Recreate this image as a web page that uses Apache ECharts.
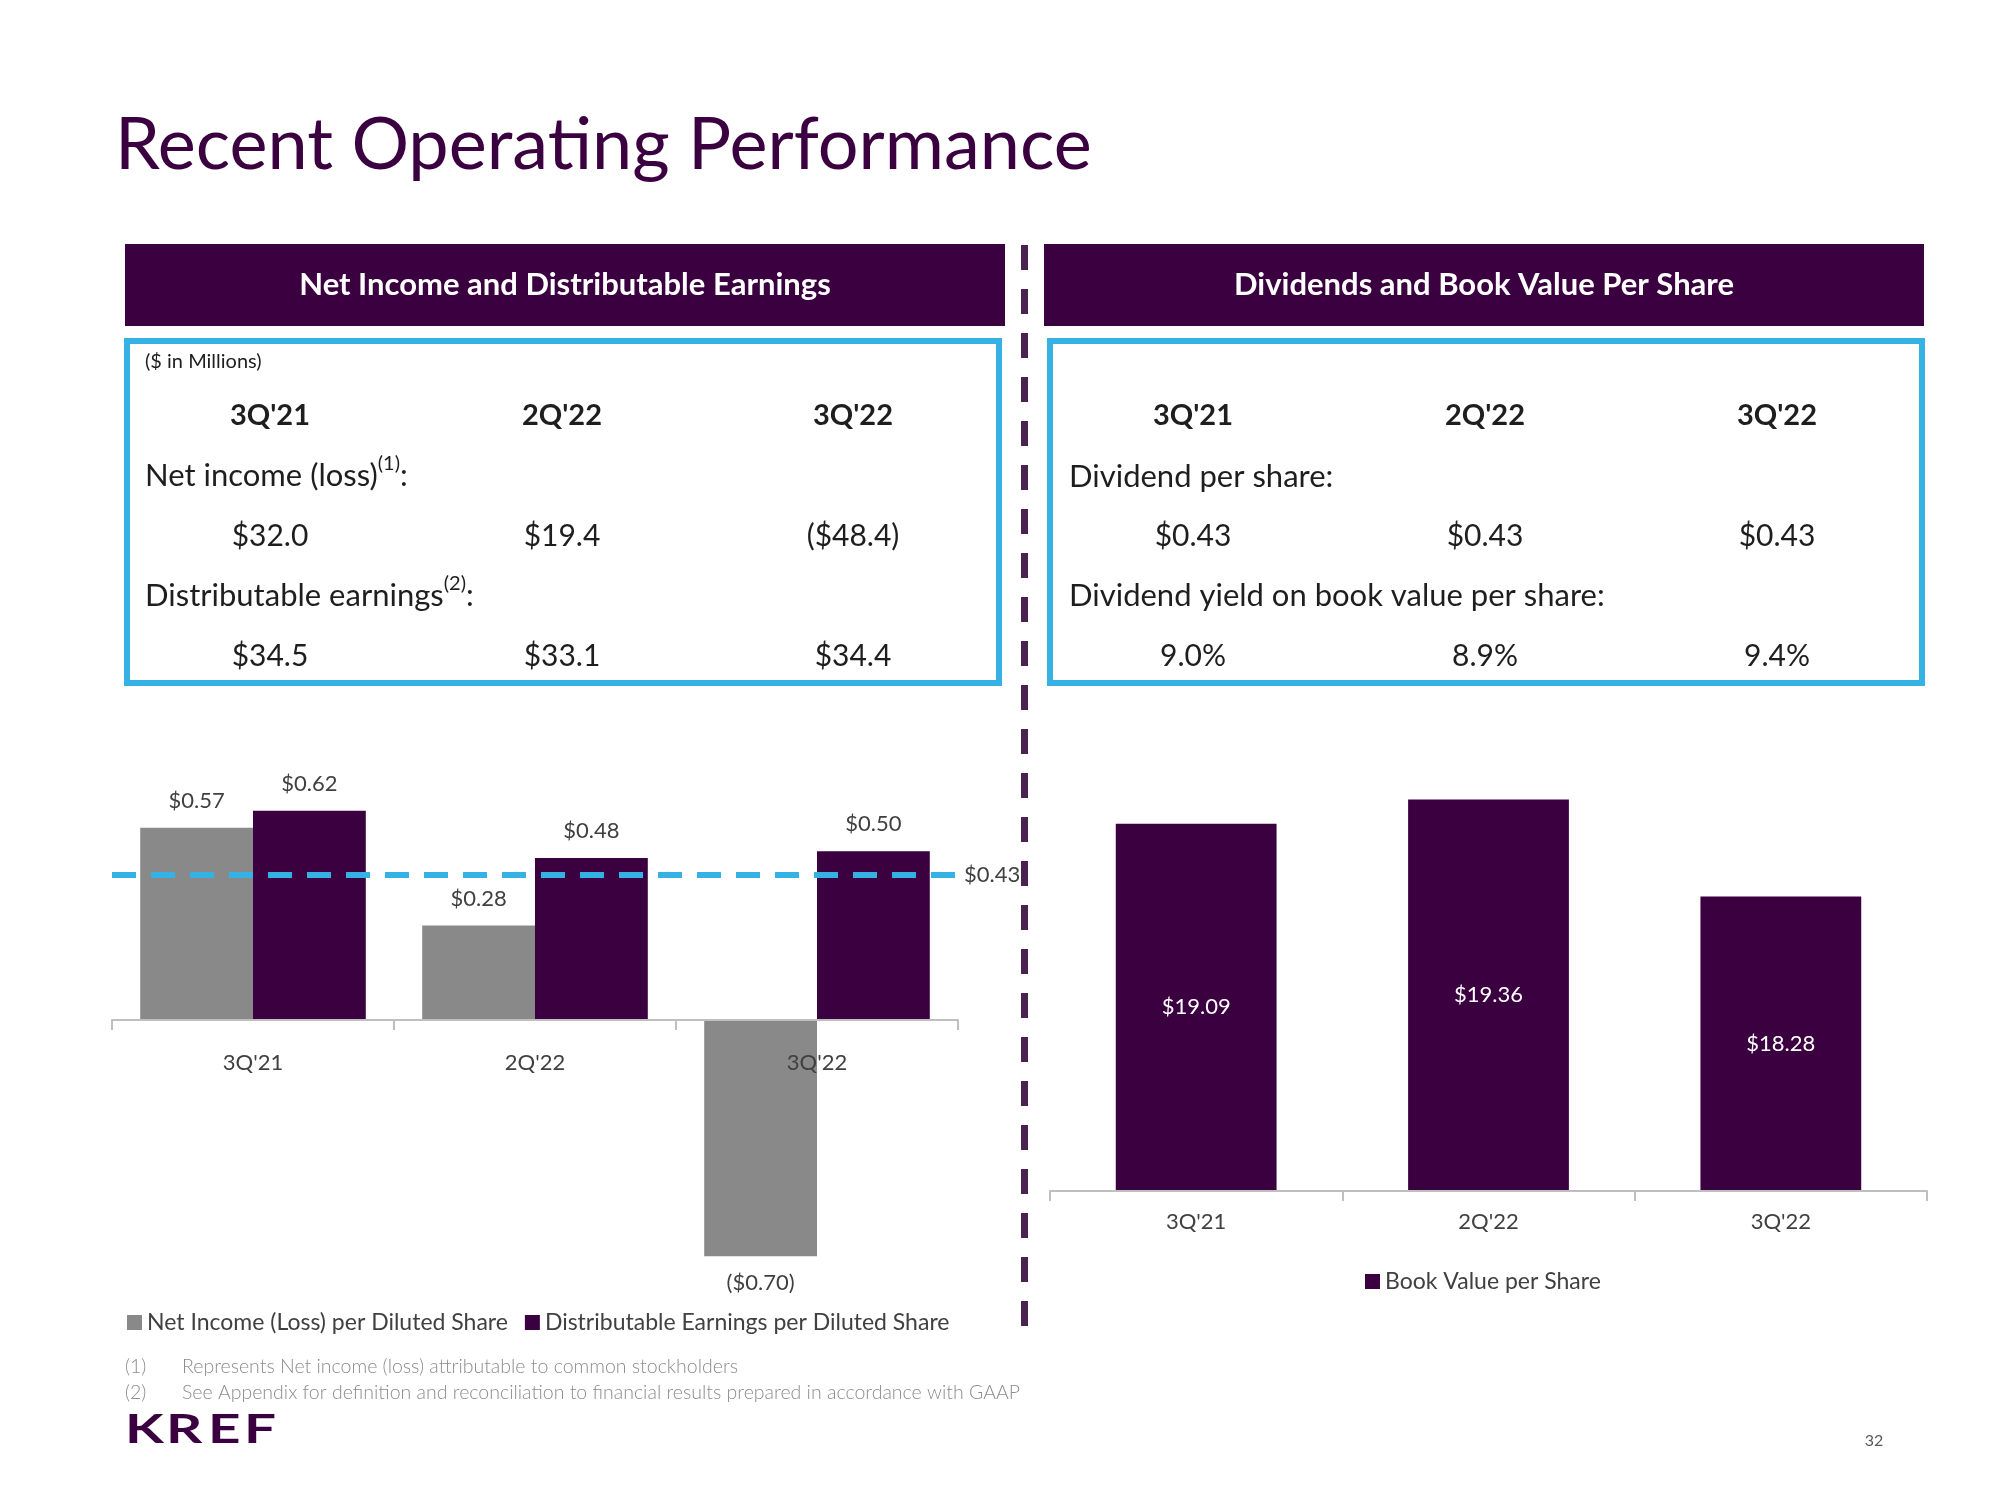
<!DOCTYPE html>
<html>
<head>
<meta charset="utf-8">
<script src="https://cdn.jsdelivr.net/npm/echarts@6/dist/echarts.min.js"></script>
<style>
html,body{margin:0;padding:0;background:#fff;}
#main{width:2000px;height:1500px;}
</style>
</head>
<body>
<div id="main"></div>
<script>
// ---- data ----
const categories = ["3Q'21", "2Q'22", "3Q'22"];
const netIncomePerShare = [0.57, 0.28, -0.70];
const distEarningsPerShare = [0.62, 0.48, 0.50];
const dividendPerShareLine = 0.43;
const bookValuePerShare = [19.09, 19.36, 18.28];
const netIncomeMillions = ['$32.0', '$19.4', '($48.4)'];
const distEarningsMillions = ['$34.5', '$33.1', '$34.4'];
const dividendPerShareText = ['$0.43', '$0.43', '$0.43'];
const dividendYieldText = ['9.0%', '8.9%', '9.4%'];
const seriesNames = ['Net Income (Loss) per Diluted Share', 'Distributable Earnings per Diluted Share', 'Book Value per Share'];

// ---- style ----
const PURPLE = '#3b0040';
const GREY = '#898989';
const BLUE = '#35b2e3';
const TXT = '#1e1e1e';
const LBL = '#404040';
const FONT = 'Lato, "Open Sans", sans-serif';

function money(v) {
  return v < 0 ? '($' + Math.abs(v).toFixed(2) + ')' : '$' + v.toFixed(2);
}

const chart = echarts.init(document.getElementById('main'), null, {renderer: 'canvas'});

const graphics = [];
function text(x, y, str, opts) {
  graphics.push({
    type: 'text', x: x, y: y, silent: true,
    style: Object.assign({
      text: str, fill: TXT, fontFamily: FONT, fontSize: 30,
      textAlign: 'left', textVerticalAlign: 'middle'
    }, opts || {})
  });
}

// title
text(115, 146, 'Recent Operating Performance', {fill: PURPLE, fontSize: 72});

// header bands
graphics.push({type: 'rect', silent: true, shape: {x: 125, y: 244, width: 880, height: 82}, style: {fill: PURPLE}});
graphics.push({type: 'rect', silent: true, shape: {x: 1044, y: 244, width: 880, height: 82}, style: {fill: PURPLE}});
text(565, 285, 'Net Income and Distributable Earnings', {fill: '#fff', fontWeight: 'bold', fontSize: 31, textAlign: 'center'});
text(1484, 285, 'Dividends and Book Value Per Share', {fill: '#fff', fontWeight: 'bold', fontSize: 31, textAlign: 'center'});

// blue boxes
graphics.push({type: 'rect', silent: true, shape: {x: 127, y: 341, width: 872, height: 342}, style: {fill: 'none', stroke: BLUE, lineWidth: 6}});
graphics.push({type: 'rect', silent: true, shape: {x: 1050, y: 341, width: 872, height: 342}, style: {fill: 'none', stroke: BLUE, lineWidth: 6}});

// divider
graphics.push({type: 'line', silent: true, shape: {x1: 1024.5, y1: 245, x2: 1024.5, y2: 1334}, style: {stroke: '#4b2350', lineWidth: 7, lineDash: [25, 19]}});

// tables
const leftCols = [270, 562, 853];
const rightCols = [1193, 1485, 1777];
text(145, 362, '($ in Millions)', {fontSize: 20});
categories.forEach((c, i) => {
  text(leftCols[i], 416, c, {fontWeight: 'bold', fontSize: 29, textAlign: 'center'});
  text(leftCols[i], 536, netIncomeMillions[i], {textAlign: 'center'});
  text(leftCols[i], 656, distEarningsMillions[i], {textAlign: 'center'});
  text(rightCols[i], 416, c, {fontWeight: 'bold', fontSize: 29, textAlign: 'center'});
  text(rightCols[i], 536, dividendPerShareText[i], {textAlign: 'center'});
  text(rightCols[i], 656, dividendYieldText[i], {textAlign: 'center'});
});
const richRow = {
  a: {fontSize: 31, fontFamily: FONT, color: TXT, lineHeight: 44},
  s: {fontSize: 20, fontFamily: FONT, color: TXT, lineHeight: 24, verticalAlign: 'top'}
};
text(145, 476, '{a|Net income (loss)}{s|(1)}{a|:}', {rich: richRow});
text(145, 596, '{a|Distributable earnings}{s|(2)}{a|:}', {rich: richRow});
text(1069, 477, 'Dividend per share:', {fontSize: 31});
text(1069, 596, 'Dividend yield on book value per share:', {fontSize: 31});

// footnotes
const fn = {fill: '#8c8c8c', fontSize: 19.5, fontWeight: 300};
text(125, 1367, '(1)', fn);
text(182, 1367, 'Represents Net income (loss) attributable to common stockholders', fn);
text(125, 1393, '(2)', fn);
text(182, 1393, 'See Appendix for definition and reconciliation to financial results prepared in accordance with GAAP', fn);

// logo
[['K', 125], ['R', 166], ['E', 208], ['F', 244]].forEach(([ch, x]) => {
  graphics.push({type: 'text', silent: true, x: x, y: 1430, scaleX: 1.38,
    style: {text: ch, fill: PURPLE, fontFamily: FONT, fontSize: 41, fontWeight: 'bold', textAlign: 'left', textVerticalAlign: 'middle'}});
});
text(1874, 1441, '32', {fill: '#595959', fontSize: 16, textAlign: 'center'});

const axisCommon = {
  type: 'category',
  data: categories,
  axisLine: {show: true, onZero: false, lineStyle: {color: '#bfbfbf', width: 2}},
  axisTick: {show: true, length: 10, lineStyle: {color: '#bfbfbf', width: 2}},
  axisLabel: {fontSize: 22, color: LBL, fontFamily: FONT},
  splitLine: {show: false},
  z: 10
};

const option = {
  backgroundColor: '#fff',
  animation: false,
  textStyle: {fontFamily: FONT},
  grid: [
    {left: 112, top: 750, width: 846, height: 270, containLabel: false},
    {left: 1050, top: 742, width: 877, height: 449, containLabel: false}
  ],
  xAxis: [
    Object.assign({}, axisCommon, {gridIndex: 0, axisLabel: Object.assign({}, axisCommon.axisLabel, {margin: 32})}),
    Object.assign({}, axisCommon, {gridIndex: 1, axisLabel: Object.assign({}, axisCommon.axisLabel, {margin: 20})})
  ],
  yAxis: [
    {type: 'value', gridIndex: 0, min: 0, max: 0.8, show: false, splitLine: {show: false}},
    {type: 'value', gridIndex: 1, min: 15, max: 20, show: false, splitLine: {show: false}}
  ],
  legend: [
    {data: [seriesNames[0], seriesNames[1]], left: 127, top: 1311, icon: 'rect', itemWidth: 15, itemHeight: 15,
     itemGap: 17, padding: 0, textStyle: {fontSize: 23, color: LBL, fontFamily: FONT}},
    {data: [seriesNames[2]], left: 1365, top: 1270, icon: 'rect', itemWidth: 15, itemHeight: 15,
     padding: 0, textStyle: {fontSize: 23, color: LBL, fontFamily: FONT}}
  ],
  series: [
    {
      name: seriesNames[0], type: 'bar', xAxisIndex: 0, yAxisIndex: 0,
      barGap: '0%', barCategoryGap: '20%', clip: false,
      itemStyle: {color: GREY},
      data: netIncomePerShare.map(v => ({
        value: v,
        label: {position: v < 0 ? 'bottom' : 'top'}
      })),
      label: {show: true, distance: 16, fontSize: 22, color: LBL, fontFamily: FONT,
        formatter: p => money(p.value)}
    },
    {
      name: seriesNames[1], type: 'bar', xAxisIndex: 0, yAxisIndex: 0,
      barGap: '0%', barCategoryGap: '20%', clip: false,
      itemStyle: {color: PURPLE},
      data: distEarningsPerShare,
      label: {show: true, position: 'top', distance: 16, fontSize: 22, color: LBL, fontFamily: FONT,
        formatter: p => money(p.value)},
      markLine: {
        silent: true, symbol: ['none', 'none'],
        lineStyle: {type: [24, 15], color: BLUE, width: 6},
        label: {show: true, position: 'end', distance: 6, fontSize: 22, color: LBL, fontFamily: FONT,
          formatter: () => money(dividendPerShareLine)},
        emphasis: {disabled: true},
        data: [{yAxis: dividendPerShareLine}],
        z: 5
      }
    },
    {
      name: seriesNames[2], type: 'bar', xAxisIndex: 1, yAxisIndex: 1,
      barCategoryGap: '45%',
      itemStyle: {color: PURPLE},
      data: bookValuePerShare,
      label: {show: true, position: 'inside', fontSize: 22, color: '#ffffff', fontFamily: FONT,
        formatter: p => money(p.value)}
    }
  ],
  graphic: {elements: graphics}
};

chart.setOption(option);
</script>
</body>
</html>
